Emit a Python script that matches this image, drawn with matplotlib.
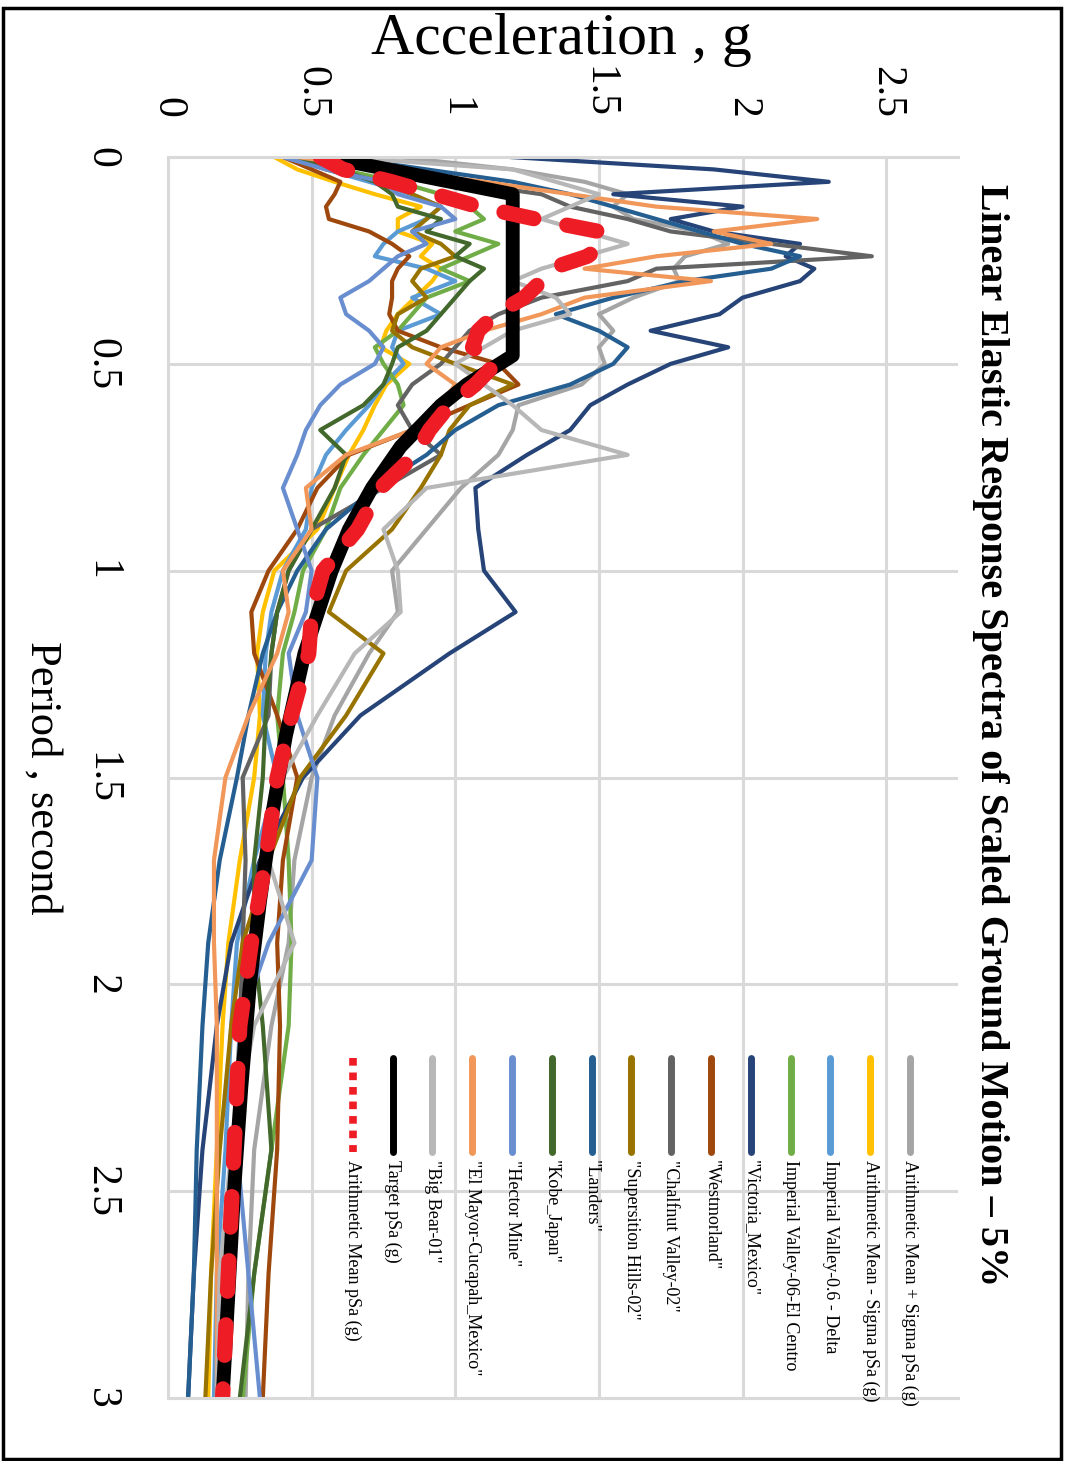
import numpy as np
import matplotlib
matplotlib.use("Agg")
import matplotlib.pyplot as plt
from matplotlib.lines import Line2D
from matplotlib.patches import Rectangle

W, H = 1065, 1461

# period grid (s) shared by the records
periods = [0, 0.03, 0.06, 0.09, 0.12, 0.15, 0.18, 0.21, 0.24, 0.27, 0.30, 0.34, 0.38, 0.42,
           0.46, 0.50, 0.55, 0.60, 0.66, 0.72, 0.80, 0.90, 1.00, 1.10, 1.20, 1.35, 1.50,
           1.70, 1.90, 2.10, 2.40, 2.70, 3.00]

mean_plus_sigma = [0.80, 1.20, 1.45, 1.60, 1.55, 1.62, 1.85, 1.95, 1.80, 1.76, 1.78, 1.62, 1.50, 1.55,
                   1.50, 1.52, 1.44, 1.22, 1.20, 1.15, 1.02, 0.90, 0.78, 0.80, 0.70, 0.58, 0.50,
                   0.44, 0.42, 0.36, 0.30, 0.28, 0.27]
mean_minus_sigma = [0.37, 0.45, 0.58, 0.72, 0.88, 0.80, 0.80, 0.92, 0.88, 0.95, 0.92, 0.86, 0.80, 0.76,
                    0.74, 0.84, 0.76, 0.72, 0.68, 0.63, 0.58, 0.52, 0.37, 0.33, 0.31, 0.32, 0.30,
                    0.25, 0.21, 0.19, 0.17, 0.15, 0.14]
iv_delta = [0.42, 0.55, 0.70, 0.85, 0.95, 0.90, 0.80, 0.75, 0.72, 0.90, 1.00, 0.85, 0.95, 0.80,
            0.78, 0.82, 0.75, 0.70, 0.62, 0.55, 0.50, 0.48, 0.40, 0.36, 0.34, 0.33, 0.38,
            0.30, 0.24, 0.22, 0.20, 0.17, 0.16]
iv_el_centro = [0.45, 0.60, 0.80, 0.95, 1.05, 1.10, 1.00, 1.15, 1.05, 0.95, 1.05, 0.90, 0.85, 0.80,
                0.72, 0.75, 0.80, 0.82, 0.75, 0.68, 0.60, 0.55, 0.47, 0.44, 0.40, 0.38, 0.40,
                0.42, 0.43, 0.42, 0.36, 0.30, 0.26]
victoria = [1.19, 1.90, 2.30, 1.55, 2.00, 1.75, 1.90, 2.20, 2.15, 2.25, 2.20, 2.00, 1.92, 1.68,
            1.95, 1.75, 1.60, 1.47, 1.40, 1.25, 1.07, 1.08, 1.10, 1.21, 0.98, 0.67, 0.47,
            0.32, 0.22, 0.17, 0.12, 0.09, 0.07]
westmorland = [0.40, 0.50, 0.60, 0.58, 0.55, 0.56, 0.70, 0.78, 0.84, 0.80, 0.78, 0.78, 0.77, 0.80,
               0.95, 1.15, 1.22, 1.05, 0.85, 0.63, 0.52, 0.45, 0.35, 0.29, 0.30, 0.38, 0.45,
               0.40, 0.38, 0.39, 0.38, 0.35, 0.33]
chalfant = [0.50, 0.75, 1.00, 1.30, 1.40, 1.60, 1.75, 2.10, 2.45, 1.70, 1.60, 1.30, 1.15, 1.05,
            1.00, 0.95, 0.85, 0.80, 0.85, 0.95, 0.75, 0.50, 0.42, 0.38, 0.36, 0.35, 0.26,
            0.27, 0.26, 0.25, 0.23, 0.21, 0.20]
superstition = [0.45, 0.55, 0.75, 0.85, 0.95, 0.90, 0.85, 0.95, 1.00, 0.88, 0.85, 0.90, 0.80, 0.78,
                0.85, 1.00, 1.20, 1.05, 0.98, 0.95, 0.88, 0.78, 0.62, 0.56, 0.75, 0.62, 0.46,
                0.35, 0.26, 0.22, 0.18, 0.15, 0.13]
landers = [0.60, 0.90, 1.20, 1.40, 1.55, 1.70, 1.85, 2.00, 2.20, 2.10, 1.80, 1.55, 1.35, 1.50,
           1.60, 1.55, 1.40, 1.15, 1.00, 0.90, 0.72, 0.55, 0.45, 0.38, 0.33, 0.28, 0.24,
           0.18, 0.14, 0.12, 0.10, 0.09, 0.07]
kobe = [0.42, 0.60, 0.72, 0.78, 0.80, 0.95, 0.90, 1.05, 1.00, 1.10, 1.05, 1.00, 0.95, 0.90,
        0.80, 0.78, 0.75, 0.68, 0.53, 0.62, 0.58, 0.50, 0.42, 0.38, 0.36, 0.34, 0.33,
        0.30, 0.30, 0.33, 0.36, 0.30, 0.25]
hector_mine = [0.40, 0.55, 0.75, 0.80, 0.95, 1.00, 0.85, 0.90, 0.80, 0.75, 0.70, 0.60, 0.62, 0.70,
               0.75, 0.72, 0.60, 0.53, 0.48, 0.45, 0.40, 0.45, 0.50, 0.48, 0.42, 0.45, 0.52,
               0.50, 0.35, 0.25, 0.24, 0.28, 0.32]
el_mayor = [0.45, 0.75, 1.10, 1.40, 1.70, 2.26, 1.90, 2.10, 1.70, 1.45, 1.89, 1.45, 1.30, 1.10,
            0.95, 0.90, 1.00, 0.95, 0.85, 0.62, 0.48, 0.50, 0.40, 0.42, 0.38, 0.28, 0.20,
            0.16, 0.16, 0.17, 0.17, 0.17, 0.17]
big_bear = [0.60, 1.20, 1.35, 1.50, 1.40, 1.30, 1.45, 1.60, 1.45, 1.30, 1.20, 1.35, 1.40, 1.20,
            1.10, 1.00, 1.10, 1.20, 1.30, 1.60, 0.90, 0.75, 0.80, 0.81, 0.65, 0.52, 0.40,
            0.35, 0.44, 0.30, 0.22, 0.18, 0.17]
mean_psa = [0.53, 0.61, 0.78, 0.93, 1.08, 1.28, 1.50, 1.52, 1.46, 1.33, 1.30, 1.24, 1.14, 1.08,
            1.06, 1.14, 1.07, 0.98, 0.91, 0.86, 0.74, 0.66, 0.54, 0.50, 0.49, 0.43, 0.38,
            0.34, 0.29, 0.25, 0.23, 0.21, 0.19]

target_periods = [0, 0.09, 0.48, 0.55, 0.60, 0.70, 0.80, 0.90, 1.0, 1.2, 1.4, 1.6, 1.8, 2.0,
                  2.25, 2.5, 2.75, 3.0]
target_psa = [0.55, 1.20, 1.20, 1.04, 0.95, 0.81, 0.71, 0.63, 0.57, 0.475, 0.41, 0.36, 0.32,
              0.285, 0.255, 0.23, 0.21, 0.19]

records = [
    ("Arithmetic Mean + Sigma pSa (g)", mean_plus_sigma, "#A5A5A5"),
    ("Arithmetic Mean - Sigma pSa (g)", mean_minus_sigma, "#FFC000"),
    ("Imperial Valley-0.6 - Delta", iv_delta, "#5B9BD5"),
    ("Imperial Valley-06-El Centro", iv_el_centro, "#70AD47"),
    ('"Victoria_Mexico"', victoria, "#264478"),
    ('"Westmorland"', westmorland, "#9E480E"),
    ('"Chalfnut Valley-02"', chalfant, "#636363"),
    ('"Supersition Hills-02"', superstition, "#997300"),
    ('"Landers"', landers, "#255E91"),
    ('"Kobe_Japan"', kobe, "#43682B"),
    ('"Hector Mine"', hector_mine, "#698ED0"),
    ('"El Mayor-Cucapah_Mexico"', el_mayor, "#F1975A"),
    ('"Big Bear-01"', big_bear, "#B7B7B7"),
]
accel_ticks = [0, 0.5, 1, 1.5, 2, 2.5]
period_ticks = [0, 0.5, 1, 1.5, 2, 2.5, 3]
title = "Linear Elastic Response Spectra of Scaled Ground Motion \u2013 5%"

plt.rcParams["font.family"] = ["Liberation Serif", "DejaVu Serif"]

fig = plt.figure(figsize=(W / 100, H / 100), dpi=100)
# the chart is turned a quarter turn: period runs down the page, acceleration to the right
ax = fig.add_axes([168 / W, 1 - 1398 / H, 790 / W, 1241 / H])

for label, vals, color in records:
    ax.plot(vals, periods, color=color, lw=3.0, solid_joinstyle="round", solid_capstyle="round")
ax.plot(target_psa, target_periods, color="black", lw=10, solid_joinstyle="round")
ax.plot(mean_psa, periods, color="#EE1C25", lw=11, dashes=(2.0, 2.2), dash_capstyle="round")

ax.set_xlim(0, 2.75)
ax.set_ylim(3, 0)
ax.set_xticks(accel_ticks)
ax.set_xticklabels([f"{t:g}" for t in accel_ticks])
ax.set_yticks(period_ticks)
ax.set_yticklabels([f"{t:g}" for t in period_ticks])
ax.xaxis.tick_top()
ax.tick_params(axis="x", length=0, labelsize=30, pad=28, labelrotation=-90)
ax.tick_params(axis="y", length=0, labelsize=30, pad=34, labelrotation=-90)
for lbl in ax.get_xticklabels():
    lbl.set_va("bottom")
    lbl.set_ha("center")
for lbl in ax.get_yticklabels():
    lbl.set_ha("right")
    lbl.set_va("center")

ax.grid(True, color="#D9D9D9", lw=2.2)
ax.set_axisbelow(True)
for side in ["top", "left", "bottom"]:
    ax.spines[side].set_color("#D9D9D9")
    ax.spines[side].set_linewidth(2.2)
ax.spines["right"].set_visible(False)

fig.text(561 / W, 1 - 40 / H, "Acceleration , g", ha="center", va="center", fontsize=43)
fig.text(42 / W, 1 - 778 / H, "Period , second", ha="center", va="center", fontsize=32,
         rotation=-90)
fig.text(990 / W, 1 - 735 / H, title, ha="center", va="center", fontsize=29,
         fontweight="bold", rotation=-90)

# legend, drawn by hand since its entries run down the page
legend_entries = records + [("Target pSa (g)", None, "black"),
                            ("Arithmetic Mean pSa (g)", None, "#EE1C25")]
for i, (label, _, color) in enumerate(legend_entries):
    x = (910 - i * 39.8) / W
    kw = dict(color=color, lw=5, solid_capstyle="round")
    if label.startswith("Arithmetic Mean pSa"):
        kw = dict(color=color, lw=5.5, dashes=(1.0, 0.9))
    fig.add_artist(Line2D([x, x], [1 - 1058 / H, 1 - 1152 / H], **kw))
    fig.text(x, 1 - 1160 / H, label, ha="center", va="top", rotation=-90, fontsize=13)

fig.add_artist(Rectangle((3 / W, 2 / H), 1058 / W, 1 - 10 / H, fill=False,
                         edgecolor="black", lw=2.5))

fig.savefig("out.png", dpi=100)
